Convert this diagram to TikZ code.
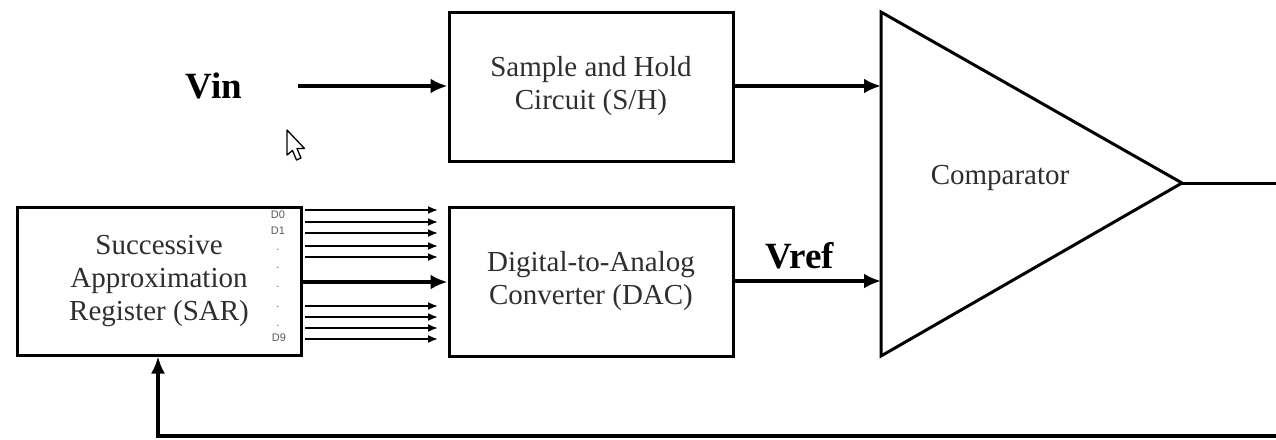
\documentclass[tikz,border=0pt]{standalone}
\usepackage{fontspec}
\setmainfont{Liberation Serif}
\setsansfont{Liberation Sans}
\usetikzlibrary{arrows.meta}
\begin{document}
\begin{tikzpicture}[x=1pt,y=-1pt,
  blockbox/.style={draw, line width=3pt, minimum width=284pt, minimum height=148pt, inner sep=0pt, align=center, font=\fontsize{29}{33}\selectfont, text=black!82},
  mainarrow/.style={line width=3.4pt, -{Latex[length=17pt,width=15pt]}},
  thinarrow/.style={line width=1.8pt, -{Latex[length=10pt,width=8pt]}},
  biglabel/.style={font=\bfseries\fontsize{37}{40}\selectfont, anchor=base, inner sep=0pt},
  dlabel/.style={font=\sffamily\fontsize{11}{11}\selectfont, text=black!65, inner sep=0pt},
  dotlabel/.style={font=\sffamily\fontsize{11}{11}\selectfont, text=black!65, inner sep=0pt, text height=1.5pt, text depth=0pt, anchor=base}
]
\useasboundingbox (0,0) rectangle (1276,439);

% blocks
\node[blockbox, minimum height=149pt] (SH) at (591,86.5) {Sample and Hold\\Circuit (S/H)};
\node[blockbox, minimum height=149pt] (DAC) at (591,281.5) {Digital-to-Analog\\Converter (DAC)};
\node[blockbox] (SAR) at (159,281) {Successive\\Approximation\\Register (SAR)};

% comparator
\coordinate (ctop) at (881,12);
\coordinate (cbot) at (881,356);
\coordinate (capex) at (1182,183);
\draw[line width=3pt, line join=miter] (ctop) -- (capex) -- (cbot) -- cycle;
\node[font=\fontsize{29}{33}\selectfont, text=black!82, anchor=base, inner sep=0pt] (cmp) at (1000,184) {Comparator};
\coordinate (cin1) at (881,86);
\coordinate (cin2) at (881,281);

% inputs
\node[biglabel] (vin) at (214,98) {Vin};
\coordinate (vinStart) at (298,86);
\draw[mainarrow] (vinStart) -- (vinStart -| SH.west);
\draw[mainarrow] (SH.east |- cin1) -- (cin1);
\draw[mainarrow] (DAC.east |- cin2) -- (cin2);
\node[biglabel] (vref) at (800,268) {Vref};

% output and feedback
\coordinate (outR) at (1276,183);
\draw[line width=3pt] (capex) -- (outR);
\coordinate (fbR) at (1276,436);
\coordinate (fbL) at (158,436);
\draw[line width=3.2pt, -{Latex[length=17pt,width=14pt]}] (fbR) -- (fbL) -- (fbL |- SAR.south);

% SAR to DAC
\coordinate (busMid) at (301,282);
\draw[mainarrow] (SAR.east |- busMid) -- (DAC.west |- busMid);
\foreach \y [count=\i] in {210,222,233,246,257,306,317,328,339} {
  \coordinate (bs\i) at (305,\y);
  \coordinate (be\i) at (438,\y);
  \draw[thinarrow] (bs\i) -- (be\i);
}

% bit labels
\node[dlabel] (d0) at (278,215) {D0};
\node[dlabel] (d1) at (278,231) {D1};
\foreach \y [count=\i] in {250,268,287,307,326} {
  \node[dotlabel] (dot\i) at (278,\y) {.};
}
\node[dlabel] (d9) at (279,338) {D9};

% mouse cursor
\draw[line width=1.3pt, line join=round, fill=white]
  (287,130) -- (287,155) -- (292.5,150.5) -- (296.5,160) -- (301,158) -- (297,148.5) -- (304.5,148.5) -- cycle;
\end{tikzpicture}
\end{document}
